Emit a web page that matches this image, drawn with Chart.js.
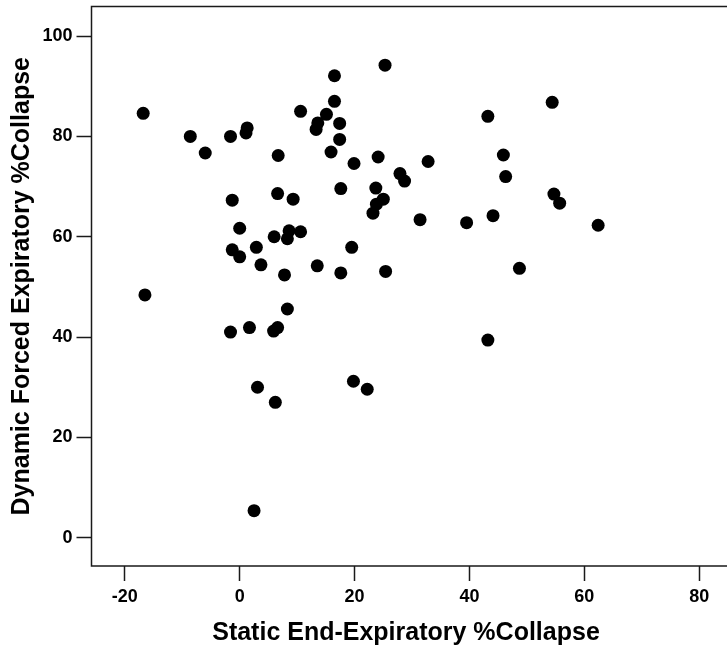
<!DOCTYPE html>
<html>
<head>
<meta charset="utf-8">
<script src="https://cdn.jsdelivr.net/npm/chart.js@4"></script>
<style>
  html, body { margin: 0; padding: 0; background: #fff; }
  #wrap { width: 727px; height: 649px; }
</style>
</head>
<body>
<div id="wrap"><canvas id="chart" width="727" height="649"></canvas></div>
<script>
// static end-expiratory %collapse (x) and dynamic forced expiratory %collapse (y)
const staticCollapse = [
  -16.8, -8.6, -6.0, -1.6, 1.3, 1.1, 6.7, 10.6, 16.5, 16.5,
  15.1, 13.6, 13.3, 17.4, 17.4, 15.9, 19.9, 24.1, 27.9, 28.7,
  25.3, -1.3, 6.6, 9.3, 17.6, 23.7, 25.0, 23.8, 23.2, 0.0,
  6.0, 8.6, 8.3, 10.6, -1.3, 0.0, 2.9, 3.7, 7.8, 13.5,
  17.6, 19.5, 25.4, -16.5, 8.3, 32.8, 43.2, 54.4, 45.9, 46.3,
  31.4, 39.5, 44.1, 54.7, 55.7, 62.4, 48.7, -1.6, 1.7, 6.6,
  5.9, 3.1, 6.2, 19.8, 22.2, 2.5, 43.2
];
const dynamicCollapse = [
  84.6, 80.0, 76.7, 80.0, 81.7, 80.7, 76.2, 85.0, 92.1, 87.0,
  84.4, 82.7, 81.4, 82.6, 79.4, 76.9, 74.6, 75.9, 72.6, 71.1,
  94.2, 67.3, 68.6, 67.5, 69.6, 69.7, 67.5, 66.5, 64.7, 61.7,
  60.0, 61.2, 59.6, 61.0, 57.4, 56.0, 57.9, 54.4, 52.4, 54.2,
  52.8, 57.9, 53.1, 48.4, 45.6, 75.0, 84.0, 86.8, 76.3, 72.0,
  63.4, 62.8, 64.2, 68.5, 66.7, 62.3, 53.7, 41.0, 41.9, 41.9,
  41.2, 30.0, 27.0, 31.2, 29.6, 5.4, 39.4
];
const xTicks = [-20, 0, 20, 40, 60, 80];
const yTicks = [0, 20, 40, 60, 80, 100];
const xTitle = 'Static End-Expiratory %Collapse';
const yTitle = 'Dynamic Forced Expiratory %Collapse';

const points = staticCollapse.map((x, i) => ({ x: x, y: dynamicCollapse[i] }));

// frame on top, left and bottom (right side is cut off in the original)
const framePlugin = {
  id: 'frame',
  beforeDraw(chart) {
    const { ctx } = chart;
    ctx.save();
    ctx.fillStyle = '#fff';
    ctx.fillRect(0, 0, chart.width, chart.height);
    ctx.restore();
  },
  afterDatasetsDraw(chart) {
    const { ctx, chartArea: a } = chart;
    ctx.save();
    ctx.strokeStyle = '#1a1a1a';
    ctx.lineWidth = 1.5;
    ctx.beginPath();
    ctx.moveTo(chart.width, a.top);
    ctx.lineTo(a.left, a.top);
    ctx.lineTo(a.left, a.bottom);
    ctx.lineTo(chart.width, a.bottom);
    ctx.stroke();
    ctx.restore();
  }
};

const tickFont = { family: '"Liberation Sans", Arial, sans-serif', size: 18, weight: 'bold' };
const titleFont = { family: '"Liberation Sans", Arial, sans-serif', size: 25, weight: 'bold', lineHeight: 1.2 };

// keep the plot area fixed: no extra room for half tick labels
const noPad = (scale) => {
  scale.paddingTop = 0;
  scale.paddingBottom = 0;
  scale.paddingLeft = 0;
  scale.paddingRight = 0;
};

new Chart(document.getElementById('chart'), {
  type: 'scatter',
  data: {
    datasets: [{
      data: points,
      backgroundColor: '#000',
      borderColor: '#000',
      borderWidth: 0,
      pointRadius: 6.5,
      pointHoverRadius: 6.5
    }]
  },
  options: {
    responsive: false,
    animation: false,
    layout: { padding: 0 },
    plugins: {
      legend: { display: false },
      tooltip: { enabled: false }
    },
    scales: {
      x: {
        type: 'linear',
        min: -25.8,
        max: 83.7,
        afterBuildTicks: (scale) => { scale.ticks = xTicks.map(v => ({ value: v })); },
        afterFit: (scale) => { scale.height = 83; noPad(scale); },
        grid: {
          drawOnChartArea: false,
          drawTicks: true,
          tickLength: 15,
          tickColor: '#1a1a1a',
          tickWidth: 1.5
        },
        border: { display: false },
        ticks: {
          color: '#000',
          font: tickFont,
          padding: 5,
          maxRotation: 0
        },
        title: {
          display: true,
          text: xTitle,
          color: '#000',
          font: titleFont,
          padding: { top: 0, bottom: 1 }
        }
      },
      y: {
        type: 'linear',
        min: -5.63,
        max: 105.9,
        afterBuildTicks: (scale) => { scale.ticks = yTicks.map(v => ({ value: v })); },
        afterFit: (scale) => { scale.width = 91.5; noPad(scale); },
        grid: {
          drawOnChartArea: false,
          drawTicks: true,
          tickLength: 15,
          tickColor: '#1a1a1a',
          tickWidth: 1.5
        },
        border: { display: false },
        ticks: {
          color: '#000',
          font: tickFont,
          padding: 4
        },
        title: {
          display: true,
          text: yTitle,
          color: '#000',
          font: titleFont,
          padding: { top: 7, bottom: 0 }
        }
      }
    }
  },
  plugins: [framePlugin]
});
</script>
</body>
</html>
